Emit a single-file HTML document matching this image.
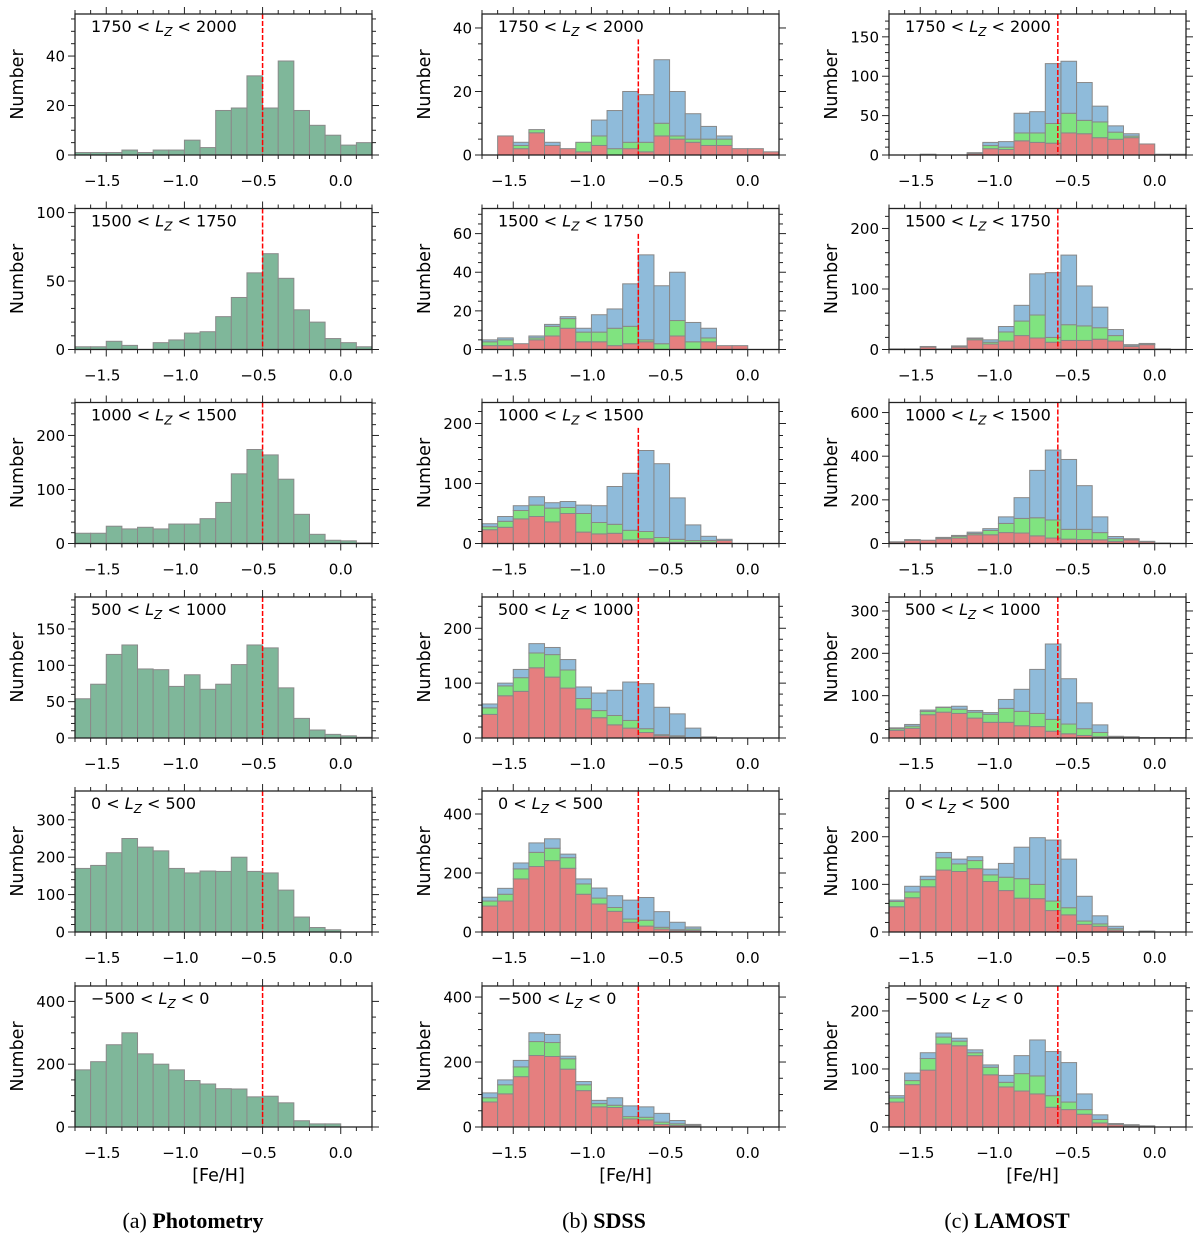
<!DOCTYPE html>
<html><head><meta charset="utf-8">
<style>
html,body{margin:0;padding:0;background:#fff;}
svg{display:block;}
text{font-family:"DejaVu Sans","Liberation Sans",sans-serif;fill:#000;}
.cap{font-family:"Liberation Serif",serif;font-size:22px;}
</style></head>
<body>
<svg id="fig" width="1200" height="1235" viewBox="0 0 1200 1235" xmlns="http://www.w3.org/2000/svg"></svg>
<script>
// ---------- DATA ----------
const binStart = -1.7, binWidth = 0.1;
const xTicks = [-1.5, -1.0, -0.5, 0.0];
const xTickLabels = ["\u22121.5", "\u22121.0", "\u22120.5", "0.0"];
const lzLabels = [["1750","2000"],["1500","1750"],["1000","1500"],["500","1000"],["0","500"],["\u2212500","0"]];
const refLines = [-0.5, -0.7, -0.62];

const photo1 = [1,1,1,2,1,2,2,6,3,18,19,32,19,38,18,12,8,4,5];
const photo2 = [2,2,6,3,0,5,7,12,13,24,38,56,70,52,29,20,8,5,2];
const photo3 = [19,19,32,27,30,27,36,36,46,76,129,174,164,119,54,17,6,5,1];
const photo4 = [54,74,115,128,95,94,71,87,67,74,101,128,124,69,27,11,5,3,1];
const photo5 = [170,178,212,250,227,217,170,158,163,162,200,162,158,112,40,12,6,0,0];
const photo6 = [182,208,262,300,233,200,182,148,137,122,121,96,98,77,20,10,10,0,0];

const sdss1Red   = [0,6,2,7,3,2,1,3,0,2,1,6,5,4,3,3,2,2,1];
const sdss1Green = [0,6,3,8,3,2,4,6,2,4,4,10,6,5,5,5,2,2,1];
const sdss1Total = [0,6,4,8,4,2,4,11,14,20,19,30,20,13,9,6,2,2,1];
const sdss2Red   = [2,2,3,5,7,11,4,4,2,3,4,0,7,0,4,2,2,0,0];
const sdss2Green = [4,5,3,6,12,16,9,9,11,12,5,3,15,4,6,2,2,0,0];
const sdss2Total = [5,6,3,7,13,17,11,18,21,34,49,33,40,14,11,2,2,0,0];
const sdss3Red   = [23,27,41,45,36,50,19,16,17,6,8,2,2,2,2,5,0,0,0];
const sdss3Green = [28,37,55,64,59,60,50,35,32,22,20,10,7,5,5,5,0,0,0];
const sdss3Total = [33,45,63,78,68,70,64,63,95,117,155,133,76,31,12,7,0,0,0];
const sdss4Red   = [43,77,85,128,111,91,53,37,24,18,10,4,2,1,1,0,0,0,0];
const sdss4Green = [55,95,110,155,152,124,72,50,41,32,17,6,4,1,1,0,0,0,0];
const sdss4Total = [62,100,125,172,165,143,93,82,87,102,99,56,44,18,2,0,0,0,0];
const sdss5Red   = [88,105,180,222,242,216,128,95,70,33,20,10,5,5,1,0,0,0,0];
const sdss5Green = [105,128,214,270,284,252,163,115,83,44,40,16,8,10,1,0,0,0,0];
const sdss5Total = [118,148,234,302,316,264,180,149,123,108,117,69,33,17,2,0,0,0,0];
const sdss6Red   = [77,102,155,220,217,178,112,62,60,25,22,8,5,3,0,0,0,0,0];
const sdss6Green = [90,130,185,263,260,210,130,72,67,32,30,15,10,5,0,0,0,0,0];
const sdss6Total = [105,145,205,290,285,218,140,82,90,65,62,42,20,8,0,0,0,0,0];

const lam1Red   = [0,0,1,0,0,2,8,7,18,16,15,28,27,22,20,22,14,1,1];
const lam1Green = [0,0,1,0,0,2,12,10,28,28,40,53,44,42,29,24,14,1,1];
const lam1Total = [0,0,1,0,0,3,16,17,53,55,116,119,92,62,37,27,14,1,1];
const lam2Red   = [1,1,4,1,4,16,9,14,23,19,12,15,15,17,14,5,8,1,0];
const lam2Green = [1,1,4,1,5,18,12,29,47,57,20,41,39,36,23,6,9,1,0];
const lam2Total = [1,1,5,1,6,19,16,38,73,125,127,156,105,70,33,8,10,1,0];
const lam3Red   = [6,15,15,22,25,40,40,50,48,35,25,20,18,17,10,17,8,2,0];
const lam3Green = [6,15,15,25,33,46,60,92,115,118,108,65,65,50,22,18,10,2,0];
const lam3Total = [8,18,15,28,37,52,68,122,210,335,428,385,265,122,32,22,10,2,0];
const lam4Red   = [18,23,55,61,58,47,37,37,29,27,16,10,6,3,1,1,1,1,1];
const lam4Green = [22,28,63,72,68,61,56,70,63,58,44,33,22,13,2,2,1,1,1];
const lam4Total = [24,32,66,73,75,65,60,91,115,162,222,140,83,31,4,3,1,1,1];
const lam5Red   = [53,72,95,130,127,133,106,87,71,70,45,36,16,12,4,0,2,0,0];
const lam5Green = [64,84,110,156,143,150,120,115,112,100,65,51,23,17,7,0,2,0,0];
const lam5Total = [67,96,117,167,153,158,132,144,178,198,193,153,75,34,12,0,2,0,0];
const lam6Red   = [43,73,98,143,140,123,90,69,62,57,34,30,22,7,4,2,1,0,0];
const lam6Green = [50,80,118,155,148,128,103,77,92,88,54,43,30,13,5,3,1,0,0];
const lam6Total = [54,93,128,162,153,133,107,89,123,150,130,111,57,21,6,4,2,0,0];

const yMaxA = [57,103,261,194,377,449];
const yStepA = [20,50,100,50,100,200];
const yMaxB = [44.4,73,235,257,478,434];
const yStepB = [20,20,100,100,200,200];
const yMaxC = [179,233,646,333,296,243];
const yStepC = [50,100,200,100,100,100];
const lineFracB = [0.82,0.82,0.82,1,1,1];

// ---------- LAYOUT ----------
const NS = "http://www.w3.org/2000/svg";
const svg = document.getElementById("fig");
const colLeft = [75, 482, 889];
const axW = 297, axH = 141;
const rowTop = [14, 208.5, 402.5, 597, 791, 986];
const xMin = -1.7, xMax = 0.2;

function mk(tag, attrs, parent){
  const e = document.createElementNS(NS, tag);
  for (const k in attrs) e.setAttribute(k, attrs[k]);
  (parent||svg).appendChild(e);
  return e;
}

const photoData = [photo1,photo2,photo3,photo4,photo5,photo6];
const sdssData = [[sdss1Red,sdss1Green,sdss1Total],[sdss2Red,sdss2Green,sdss2Total],[sdss3Red,sdss3Green,sdss3Total],[sdss4Red,sdss4Green,sdss4Total],[sdss5Red,sdss5Green,sdss5Total],[sdss6Red,sdss6Green,sdss6Total]];
const lamData = [[lam1Red,lam1Green,lam1Total],[lam2Red,lam2Green,lam2Total],[lam3Red,lam3Green,lam3Total],[lam4Red,lam4Green,lam4Total],[lam5Red,lam5Green,lam5Total],[lam6Red,lam6Green,lam6Total]];
const colNames = ["photometry","sdss","lamost"];

function drawPanel(col, row){
  const L = colLeft[col], T = rowTop[row], B = T + axH, R = L + axW;
  const ymax = [yMaxA,yMaxB,yMaxC][col][row];
  const ystep = [yStepA,yStepB,yStepC][col][row];
  const sx = v => L + (v - xMin) / (xMax - xMin) * axW;
  const sy = v => B - v / ymax * axH;
  const g = mk("g", {});
  
  

  const bars = mk("g", {}, g);
  
  
  for (let i = 0; i < 19; i++){
    const x0 = sx(binStart + i*binWidth), x1 = sx(binStart + (i+1)*binWidth);
    if (col === 0){
      const v = photoData[row][i];
      if (v <= 0) continue;
      const r = mk("rect", {x:x0, y:sy(v), width:x1-x0, height:sy(0)-sy(v), fill:"#7fb79a", stroke:"#8a8a8a", "stroke-width":1}, bars);
      
      
    } else {
      const d = col === 1 ? sdssData[row] : lamData[row];
      const layers = [[0, d[0][i], "#e57f7f"], [d[0][i], d[1][i], "#80e380"], [d[1][i], d[2][i], "#8fbbda"]];
      const names = ["bar-red","bar-green","bar-blue"];
      layers.forEach((ly, k) => {
        if (ly[1] - ly[0] <= 0) return;
        const r = mk("rect", {x:x0, y:sy(ly[1]), width:x1-x0, height:sy(ly[0])-sy(ly[1]), fill:ly[2], stroke:"#888", "stroke-width":1}, bars);
        
        
      });
    }
  }

  const rv = refLines[col];
  const frac = col === 1 ? lineFracB[row] : 1;
  const ln = mk("line", {x1:sx(rv), x2:sx(rv), y1:B - frac*axH, y2:B, stroke:"#ff0000", "stroke-width":1.5, "stroke-dasharray":"5,2"}, g);
  
  

  const fr = mk("rect", {x:L, y:T, width:axW, height:axH, fill:"none", stroke:"#222", "stroke-width":1.3}, g);
  
  

  for (let k = -17; k <= 2; k++){
    const v = k/10, x = sx(v);
    const major = (Math.round(k) % 5 === 0);
    const len = major ? 7 : 4;
    mk("line", {x1:x, x2:x, y1:B, y2:B+len, stroke:"#222", "stroke-width":1}, g);
    mk("line", {x1:x, x2:x, y1:T, y2:T-len, stroke:"#222", "stroke-width":1}, g);
  }
  xTicks.forEach((v, i) => {
    const t = mk("text", {x:sx(v) - (v<0?4:0), y:B+31, "text-anchor":"middle", "font-size":15}, g);
    t.textContent = xTickLabels[i];
    
    
  });

  const mant = ystep / Math.pow(10, Math.floor(Math.log10(ystep)));
  const ndiv = (mant === 1 || mant === 5) ? 5 : 4;
  const minor = ystep / ndiv;
  for (let v = 0; v <= ymax + 1e-9; v += minor){
    const y = sy(v);
    const isMaj = Math.abs(v/ystep - Math.round(v/ystep)) < 1e-6;
    const len = isMaj ? 7 : 4;
    mk("line", {x1:L, x2:L-len, y1:y, y2:y, stroke:"#222", "stroke-width":1}, g);
    mk("line", {x1:R, x2:R+len, y1:y, y2:y, stroke:"#222", "stroke-width":1}, g);
    if (isMaj){
      const t = mk("text", {x:L-10, y:y+5.5, "text-anchor":"end", "font-size":15}, g);
      t.textContent = String(Math.round(v));
      
      
    }
  }

  const yl = mk("text", {x:0, y:0, "text-anchor":"middle", "font-size":17.5, transform:`translate(${L-52},${T+axH/2}) rotate(-90)`}, g);
  yl.textContent = "Number";
  
  

  const lb = mk("text", {x:L+16, y:T+18, "font-size":16}, g);
  
  
  const a = mk("tspan", {}, lb); a.textContent = lzLabels[row][0] + " < ";
  const li = mk("tspan", {"font-style":"italic"}, lb); li.textContent = "L";
  const sub = mk("tspan", {"font-style":"italic", "font-size":12, dy:4}, lb); sub.textContent = "Z";
  const c = mk("tspan", {dy:-4}, lb); c.textContent = " < " + lzLabels[row][1];

  if (row === 5){
    const xl = mk("text", {x:L+axW/2 - 5, y:1181, "text-anchor":"middle", "font-size":17.5}, g);
    xl.textContent = "[Fe/H]";
    
    
  }
}

for (let c = 0; c < 3; c++) for (let r = 0; r < 6; r++) drawPanel(c, r);

const caps = [["(a) ","Photometry",193],["(b) ","SDSS",604],["(c) ","LAMOST",1007]];
caps.forEach(cp => {
  const t = mk("text", {x:cp[2], y:1228, "text-anchor":"middle", class:"cap"});
  
  
  const a = mk("tspan", {}, t); a.textContent = cp[0];
  const b = mk("tspan", {"font-weight":"bold"}, t); b.textContent = cp[1];
});
</script>
</body></html>
